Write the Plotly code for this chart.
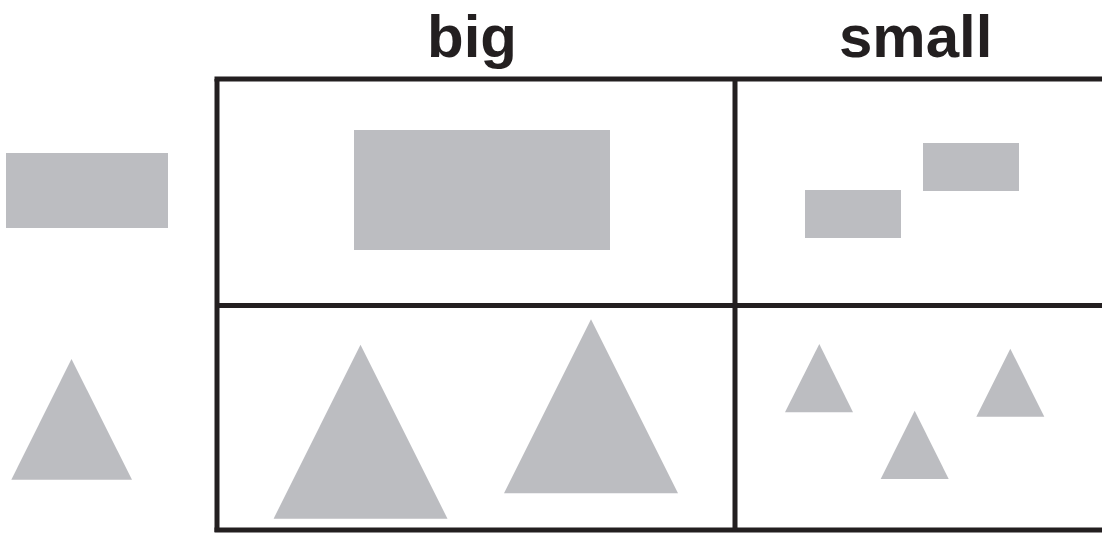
import plotly.graph_objects as go

# Column labels
col_labels = ["big", "small"]
col_label_x = [472, 915]
col_label_y = 36

# Grid lines (x0, y0, x1, y1) in pixel-like data units
grid_lines = [
    (214.5, 79, 1102, 79),
    (217, 305.5, 1102, 305.5),
    (214.5, 530, 1102, 530),
    (217, 79, 217, 532),
    (735, 79, 735, 532),
]

# Rectangles: (x0, x1, y0, y1)
rect_x0 = [6, 354, 805, 923]
rect_x1 = [168, 610, 901, 1019]
rect_y0 = [153, 130, 190, 143]
rect_y1 = [228, 250, 238, 191]

# Triangles: apex x, apex y, base y, base left x, base right x
tri_apex_x = [71.5, 360.5, 591, 819.3, 914.7, 1010.3]
tri_apex_y = [359, 344.7, 319.3, 344, 410.7, 348.7]
tri_base_y = [479.7, 518.7, 493.3, 412.3, 479, 416.7]
tri_left_x = [11.3, 273.6, 504, 785, 880.7, 976.3]
tri_right_x = [132, 447.5, 678, 853, 948.7, 1044.3]

GREY = "#bcbdc1"
INK = "#231f20"

fig = go.Figure()

for x0, x1, y0, y1 in zip(rect_x0, rect_x1, rect_y0, rect_y1):
    fig.add_trace(go.Scatter(
        x=[x0, x1, x1, x0, x0], y=[y0, y0, y1, y1, y0],
        mode="lines", fill="toself", fillcolor=GREY,
        line=dict(width=0, color=GREY), hoverinfo="skip", showlegend=False))

for ax, ay, by, lx, rx in zip(tri_apex_x, tri_apex_y, tri_base_y, tri_left_x, tri_right_x):
    fig.add_trace(go.Scatter(
        x=[ax, rx, lx, ax], y=[ay, by, by, ay],
        mode="lines", fill="toself", fillcolor=GREY,
        line=dict(width=0, color=GREY), hoverinfo="skip", showlegend=False))

for x0, y0, x1, y1 in grid_lines:
    fig.add_shape(type="line", xref="x", yref="y", x0=x0, y0=y0, x1=x1, y1=y1,
                  line=dict(color=INK, width=5))

for lab, lx in zip(col_labels, col_label_x):
    fig.add_annotation(x=lx, y=col_label_y, xref="x", yref="y", text="<b>%s</b>" % lab,
                       showarrow=False, xanchor="center", yanchor="middle",
                       font=dict(family="Liberation Sans", size=60, color=INK))

fig.update_layout(
    width=1102, height=533,
    margin=dict(l=0, r=0, t=0, b=0),
    paper_bgcolor="white", plot_bgcolor="white",
    xaxis=dict(range=[0, 1102], visible=False, fixedrange=True),
    yaxis=dict(range=[533, 0], visible=False, fixedrange=True),
    showlegend=False,
)

fig.write_html(
    "out.html",
    config={"displayModeBar": False},
    post_script="document.body.style.margin='0';document.body.style.overflow='hidden';",
)
